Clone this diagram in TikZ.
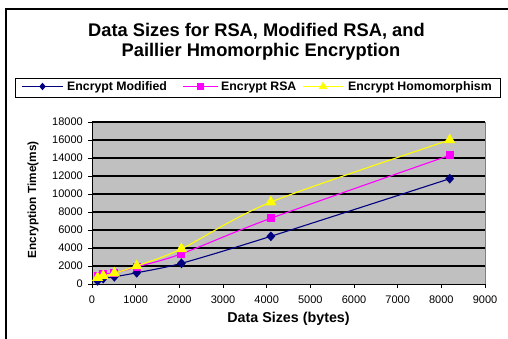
\documentclass[tikz,border=0pt]{standalone}
\usepackage{fontspec}
\setmainfont{Liberation Sans}
\usetikzlibrary{shapes.geometric}

\definecolor{navyblue}{RGB}{0,0,128}
\definecolor{pinkmag}{RGB}{255,0,255}
\definecolor{brightyellow}{RGB}{255,255,0}
\definecolor{plotgray}{RGB}{192,192,192}
\definecolor{framegray}{RGB}{128,128,128}

\tikzset{
  titletext/.style={font=\fontsize{18.3}{20}\selectfont\bfseries, inner sep=0pt},
  legtext/.style={font=\fontsize{12.3}{14}\selectfont\bfseries, inner sep=0pt, anchor=base west},
  ticklabel/.style={font=\fontsize{11}{12}\selectfont, inner sep=0pt},
  axistitle/.style={font=\bfseries, inner sep=0pt},
  gridline/.style={black, line width=1.2pt},
  axisline/.style={black, line width=0.9pt},
  modline/.style={navyblue, line width=1.1pt},
  rsaline/.style={pinkmag, line width=1.1pt},
  homline/.style={brightyellow, line width=1.1pt},
  modmark/.style={diamond, fill=navyblue, inner sep=0pt, minimum width=9pt, minimum height=10pt},
  rsamark/.style={rectangle, fill=pinkmag, inner sep=0pt, minimum size=8pt},
  hommark/.style={regular polygon, regular polygon sides=3, fill=brightyellow, inner sep=0pt, minimum size=13pt},
}

\begin{document}
\begin{tikzpicture}[x=1pt,y=1pt]
\useasboundingbox (0,0) rectangle (508,339);

% chart frame
\draw[line width=1.5pt] (6,-5) -- (6,330) -- (515,330);

% title
\node[titletext, anchor=base] (title1) at (256.5,302.3) {Data Sizes for RSA, Modified RSA, and};
\node[titletext, anchor=base] (title2) at (261,282.3) {Paillier Hmomorphic Encryption};

% legend
\draw[line width=0.9pt] (15,241.7) rectangle (500,260.7);
\draw[modline] (22,252.5) -- (63,252.5) node[modmark, pos=0.5, minimum width=7pt, minimum height=8pt] (legmod) {};
\node[legtext] (legmodtxt) at (67,248) {Encrypt Modified};
\draw[rsaline] (183,252.5) -- (218,252.5) node[rsamark, pos=0.5, minimum size=6.5pt] (legrsa) {};
\node[legtext] (legrsatxt) at (221,248) {Encrypt RSA};
\draw[homline] (303,252.5) -- (343,252.5) node[hommark, pos=0.5, minimum size=10pt] (leghom) {};
\node[legtext] (leghomtxt) at (348,248) {Encrypt Homomorphism};

% axis titles
\node[axistitle, font=\fontsize{11.8}{14}\selectfont\bfseries, rotate=90] (ytitle) at (33,139) {Encryption Time(ms)};
\node[axistitle, font=\fontsize{14.3}{16}\selectfont\bfseries] (xtitle) at (288.5,20) {Data Sizes (bytes)};

% plot area, x in thousands of bytes, y in thousands of ms
\begin{scope}[shift={(92pt,55pt)}, x=43.667pt, y=9pt]
\fill[plotgray] (0,0) rectangle (9,18);
\foreach \gy in {2,4,...,18}
  \draw[gridline] (0,\gy) -- (9,\gy);
\draw[framegray, line width=0.9pt] (9,0) -- (9,18);
\draw[axisline] (0,18) -- (0,0) -- (9,0);

\foreach \gy/\lab in {0/0, 2/2000, 4/4000, 6/6000, 8/8000, 10/10000,
                      12/12000, 14/14000, 16/16000, 18/18000} {
  \draw[axisline] (0,\gy) -- ++(-4pt,0);
  \node[ticklabel, anchor=east] (ylab\gy) at ([xshift=-9pt]0,\gy) {\lab};
}
\foreach \gx/\lab in {0/0, 1/1000, 2/2000, 3/3000, 4/4000, 5/5000,
                      6/6000, 7/7000, 8/8000, 9/9000} {
  \draw[axisline] (\gx,0) -- ++(0,-4pt);
  \node[ticklabel, anchor=north] (xlab\gx) at ([yshift=-12pt]\gx,0) {\lab};
}

% data points
\foreach \nm/\px/\py in {m1/0.128/0.35, m2/0.256/0.6, m3/0.512/0.8, m4/1.024/1.25,
                         m5/2.048/2.3, m6/4.096/5.3, m7/8.192/11.7,
                         r1/0.128/0.9, r2/0.256/1.1, r3/0.512/1.25, r4/1.024/1.9,
                         r5/2.048/3.35, r6/4.096/7.3, r7/8.192/14.3,
                         h1/0.128/0.7, h2/0.256/0.9, h3/0.512/1.2, h4/1.024/2.0,
                         h5/2.048/3.9, h6/4.096/9.1, h7/8.192/16.0}
  \coordinate (\nm) at (\px,\py);

\draw[modline] plot[smooth, tension=0.5] coordinates {(m1) (m2) (m3) (m4) (m5) (m6) (m7)};
\foreach \i in {1,...,7}
  \node[modmark] (mm\i) at (m\i) {};

\draw[rsaline] plot[smooth, tension=0.5] coordinates {(r1) (r2) (r3) (r4) (r5) (r6) (r7)};
\foreach \i in {1,...,7}
  \node[rsamark] (rm\i) at (r\i) {};

\draw[homline] plot[smooth, tension=0.5] coordinates {(h1) (h2) (h3) (h4) (h5) (h6) (h7)};
\foreach \i in {1,...,7}
  \node[hommark] (hm\i) at (h\i) {};
\end{scope}
\end{tikzpicture}
\end{document}
